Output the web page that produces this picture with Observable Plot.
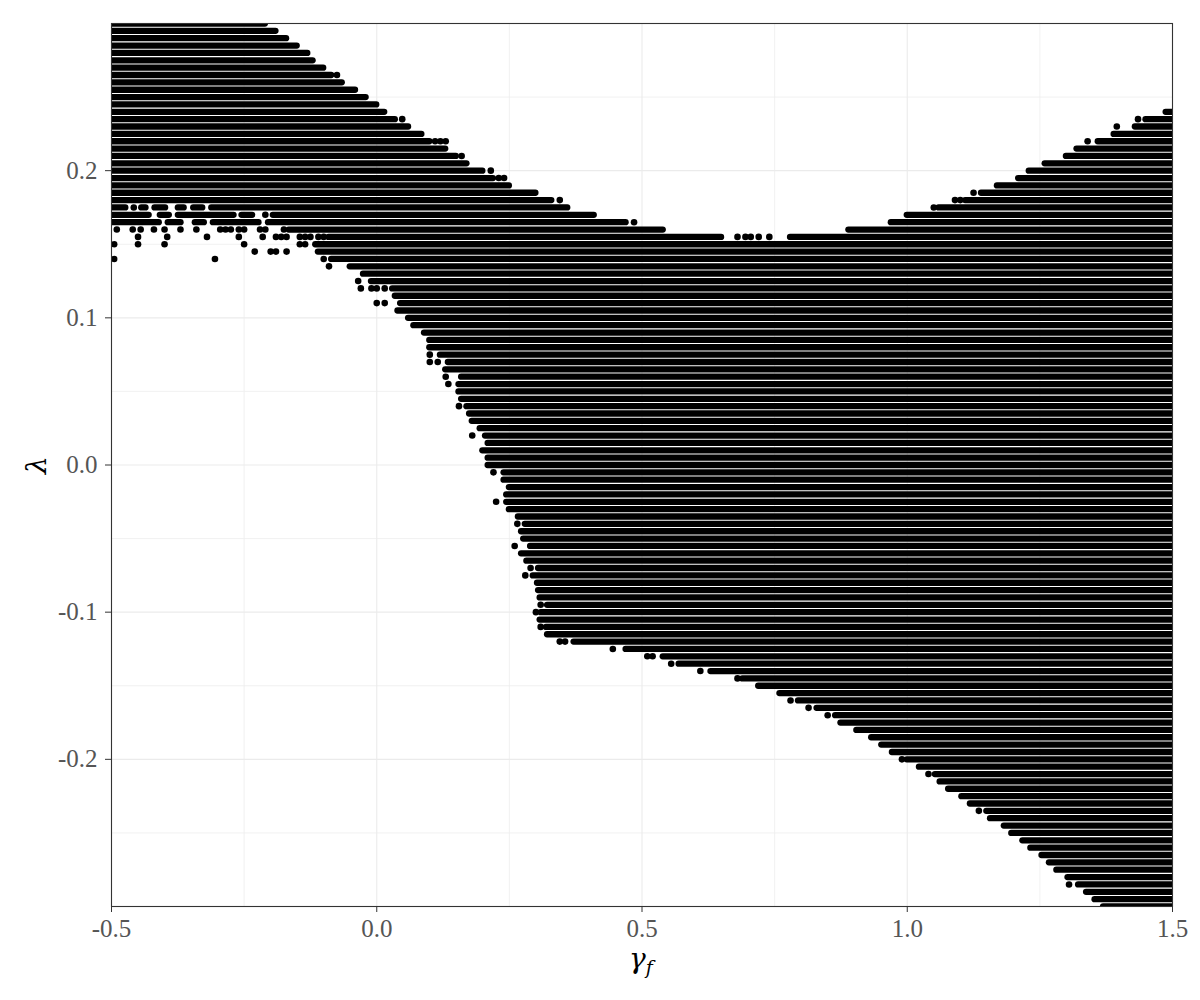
<!DOCTYPE html>
<html>
<head>
<meta charset="utf-8">
<script src="https://cdn.jsdelivr.net/npm/d3@7"></script>
<script src="https://cdn.jsdelivr.net/npm/@observablehq/plot@0.6"></script>
<style>
  body { margin: 0; background: #fff; }
  svg { display: block; }
</style>
</head>
<body>
<div id="chart"></div>
<script>
// ---- axis ticks / grid ----
const xTicks = [-0.5, 0, 0.5, 1, 1.5];
const yTicks = [-0.2, -0.1, 0, 0.1, 0.2];
const xMinor = [-0.25, 0.25, 0.75, 1.25];
const yMinor = [-0.25, -0.15, -0.05, 0.05, 0.15, 0.25];

// ---- upper-left band: rows starting at gamma = -0.5 ----
const upperLeftLambda = [0.300, 0.295, 0.290, 0.285, 0.280, 0.275, 0.270, 0.265, 0.260, 0.255,
  0.250, 0.245, 0.240, 0.235, 0.230, 0.225, 0.220, 0.215, 0.210, 0.205,
  0.200, 0.195, 0.190, 0.185, 0.180];
const upperLeftEnd = [-0.21, -0.19, -0.17, -0.15, -0.13, -0.12, -0.10, -0.085, -0.065, -0.04,
  -0.02, 0.00, 0.015, 0.035, 0.06, 0.085, 0.10, 0.13, 0.15, 0.17,
  0.20, 0.22, 0.25, 0.30, 0.33];

// ---- broken rows in the transition zone ----
const pieceLambda = [0.175, 0.175, 0.175, 0.175, 0.175, 0.175,
  0.170, 0.170, 0.170, 0.170, 0.170,
  0.165, 0.165, 0.165, 0.165, 0.165,
  0.160, 0.155, 0.155];
const pieceFrom = [-0.5, -0.443, -0.418, -0.374, -0.345, -0.311,
  -0.5, -0.408, -0.374, -0.254, -0.195,
  -0.5, -0.393, -0.342, -0.308, -0.204,
  -0.165, -0.09, 0.78];
const pieceTo = [-0.473, -0.435, -0.398, -0.363, -0.328, 0.36,
  -0.429, -0.391, -0.269, -0.234, 0.41,
  -0.41, -0.369, -0.325, -0.222, 0.47,
  0.54, 0.65, 1.5];

// ---- upper-right band: rows ending at gamma = 1.5 ----
const upperRightLambda = [0.240, 0.235, 0.230, 0.225, 0.220, 0.215, 0.210, 0.205, 0.200,
  0.195, 0.190, 0.185, 0.180, 0.175, 0.170, 0.165, 0.160];
const upperRightStart = [1.488, 1.45, 1.43, 1.39, 1.36, 1.32, 1.30, 1.26, 1.23,
  1.21, 1.17, 1.14, 1.11, 1.06, 1.00, 0.97, 0.89];

// ---- main band: rows ending at gamma = 1.5 ----
const lowerLambda = [0.150, 0.145, 0.140, 0.135, 0.130, 0.125, 0.120, 0.115, 0.110, 0.105,
  0.100, 0.095, 0.090, 0.085, 0.080, 0.075, 0.070, 0.065, 0.060, 0.055,
  0.050, 0.045, 0.040, 0.035, 0.030, 0.025, 0.020, 0.015, 0.010, 0.005,
  0.000, -0.005, -0.010, -0.015, -0.020, -0.025, -0.030, -0.035, -0.040, -0.045,
  -0.050, -0.055, -0.060, -0.065, -0.070, -0.075, -0.080, -0.085, -0.090, -0.095,
  -0.100, -0.105, -0.110, -0.115, -0.120, -0.125, -0.130, -0.135, -0.140, -0.145,
  -0.150, -0.155, -0.160, -0.165, -0.170, -0.175, -0.180, -0.185, -0.190, -0.195,
  -0.200, -0.205, -0.210, -0.215, -0.220, -0.225, -0.230, -0.235, -0.240, -0.245,
  -0.250, -0.255, -0.260, -0.265, -0.270, -0.275, -0.280, -0.285, -0.290, -0.295,
  -0.300];
const lowerStart = [-0.115, -0.11, -0.085, -0.05, -0.025, -0.01, 0.03, 0.035, 0.045, 0.04,
  0.06, 0.07, 0.09, 0.10, 0.10, 0.12, 0.135, 0.13, 0.16, 0.155,
  0.155, 0.16, 0.17, 0.175, 0.18, 0.195, 0.205, 0.21, 0.20, 0.21,
  0.21, 0.24, 0.24, 0.25, 0.245, 0.245, 0.25, 0.267, 0.28, 0.273,
  0.277, 0.29, 0.273, 0.283, 0.305, 0.295, 0.303, 0.305, 0.308, 0.322,
  0.31, 0.308, 0.32, 0.322, 0.372, 0.47, 0.54, 0.57, 0.63, 0.69,
  0.72, 0.76, 0.795, 0.83, 0.865, 0.875, 0.905, 0.933, 0.952, 0.972,
  1.00, 1.023, 1.053, 1.062, 1.078, 1.103, 1.119, 1.15, 1.157, 1.183,
  1.197, 1.218, 1.233, 1.254, 1.268, 1.282, 1.303, 1.323, 1.338, 1.354,
  1.37];

// ---- isolated points ----
const dotLambda = [0.265, 0.235, 0.220, 0.220, 0.220, 0.210, 0.200, 0.195, 0.195, 0.180,
  0.175, 0.170, 0.165,
  0.160, 0.160, 0.160, 0.160, 0.160, 0.160, 0.160, 0.160, 0.160, 0.160, 0.160, 0.160, 0.160, 0.160, 0.160,
  0.155, 0.155, 0.155, 0.155, 0.155, 0.155, 0.155, 0.155, 0.155, 0.155, 0.155, 0.155, 0.155,
  0.155, 0.155, 0.155, 0.155, 0.155,
  0.150, 0.150, 0.150, 0.150, 0.150, 0.150,
  0.145, 0.145, 0.145, 0.145,
  0.140, 0.140, 0.140,
  0.135, 0.125, 0.120, 0.120, 0.120, 0.120, 0.110, 0.110,
  0.075, 0.070, 0.070, 0.060, 0.055, 0.040, 0.020,
  -0.005, -0.025, -0.040, -0.055, -0.070, -0.075, -0.095, -0.100, -0.110,
  -0.120, -0.120, -0.125, -0.130, -0.130, -0.135, -0.140, -0.145,
  -0.160, -0.165, -0.170, -0.200, -0.210, -0.235, -0.285,
  0.235, 0.230, 0.220, 0.185, 0.180, 0.180, 0.175];
const dotGamma = [-0.075, 0.048, 0.11, 0.12, 0.13, 0.16, 0.215, 0.23, 0.24, 0.345,
  -0.458, -0.21, 0.485,
  -0.49, -0.46, -0.445, -0.42, -0.40, -0.37, -0.34, -0.295, -0.285, -0.275, -0.26, -0.25, -0.22, -0.21, -0.175,
  -0.45, -0.395, -0.32, -0.26, -0.215, -0.19, -0.18, -0.17, -0.145, -0.135, -0.125, -0.11, -0.10,
  0.68, 0.695, 0.705, 0.72, 0.74,
  -0.495, -0.45, -0.40, -0.25, -0.145, -0.135,
  -0.23, -0.20, -0.19, -0.17,
  -0.495, -0.305, -0.10,
  -0.09, -0.035, -0.03, -0.01, 0.00, 0.015, 0.00, 0.015,
  0.10, 0.10, 0.115, 0.13, 0.135, 0.155, 0.18,
  0.22, 0.225, 0.265, 0.26, 0.29, 0.28, 0.309, 0.30, 0.309,
  0.345, 0.355, 0.445, 0.51, 0.52, 0.555, 0.61, 0.68,
  0.78, 0.814, 0.85, 0.99, 1.04, 1.135, 1.305,
  1.435, 1.395, 1.34, 1.125, 1.09, 1.10, 1.05];

// ---- build tables ----
const segs = [];
upperLeftLambda.forEach((l, i) => segs.push({lam: l, g1: -0.5, g2: upperLeftEnd[i]}));
pieceLambda.forEach((l, i) => segs.push({lam: l, g1: pieceFrom[i], g2: pieceTo[i]}));
upperRightLambda.forEach((l, i) => segs.push({lam: l, g1: upperRightStart[i], g2: 1.5}));
lowerLambda.forEach((l, i) => segs.push({lam: l, g1: lowerStart[i], g2: 1.5}));
const dots = dotLambda.map((l, i) => ({lam: l, g: dotGamma[i]}));

const fmt = d => d.toFixed(1);
const FONT = "'Liberation Serif', 'DejaVu Serif', serif";
const MATH = "'DejaVu Serif', serif";

const chart = Plot.plot({
  width: 1200,
  height: 1000,
  marginLeft: 111,
  marginRight: 28,
  marginTop: 23,
  marginBottom: 94,
  x: {domain: [-0.5, 1.5], axis: null},
  y: {domain: [-0.3, 0.3], axis: null},
  style: {fontFamily: FONT, fontSize: "25px", background: "white", overflow: "visible"},
  marks: [
    Plot.ruleX(xMinor, {stroke: "#eeeeee", strokeWidth: 0.8}),
    Plot.ruleY(yMinor, {stroke: "#eeeeee", strokeWidth: 0.8}),
    Plot.ruleX(xTicks, {stroke: "#ebebeb", strokeWidth: 1.1}),
    Plot.ruleY(yTicks, {stroke: "#ebebeb", strokeWidth: 1.1}),
    Plot.ruleY(segs, {y: "lam", x1: "g1", x2: "g2", stroke: "#000", strokeWidth: 6.3, strokeLinecap: "round", clip: true}),
    Plot.dot(dots, {x: "g", y: "lam", r: 3.3, fill: "#000", clip: true}),
    Plot.frame({stroke: "#333", strokeWidth: 1.1}),
    Plot.axisX(xTicks, {tickSize: 6, tickPadding: 7, tickFormat: fmt, stroke: "#333", fill: "#555", fontSize: 25, fontFamily: FONT, label: null}),
    Plot.axisY(yTicks, {tickSize: 6, tickPadding: 8, tickFormat: fmt, stroke: "#333", fill: "#555", fontSize: 25, fontFamily: FONT, label: null})
  ]
});

const svg = d3.select(chart);
svg.append("text")
  .attr("transform", "translate(46,465) rotate(-90)")
  .attr("text-anchor", "middle")
  .style("font-family", MATH)
  .style("font-size", "28px")
  .style("font-style", "italic")
  .attr("fill", "#000")
  .text("λ");
const xl = svg.append("text")
  .attr("x", 641)
  .attr("y", 968)
  .attr("text-anchor", "middle")
  .style("font-family", MATH)
  .style("font-size", "28px")
  .style("font-style", "italic")
  .attr("fill", "#000");
xl.append("tspan").text("γ");
xl.append("tspan").attr("dy", 6).style("font-size", "19px").text("f");

document.getElementById("chart").appendChild(chart);
</script>
</body>
</html>
